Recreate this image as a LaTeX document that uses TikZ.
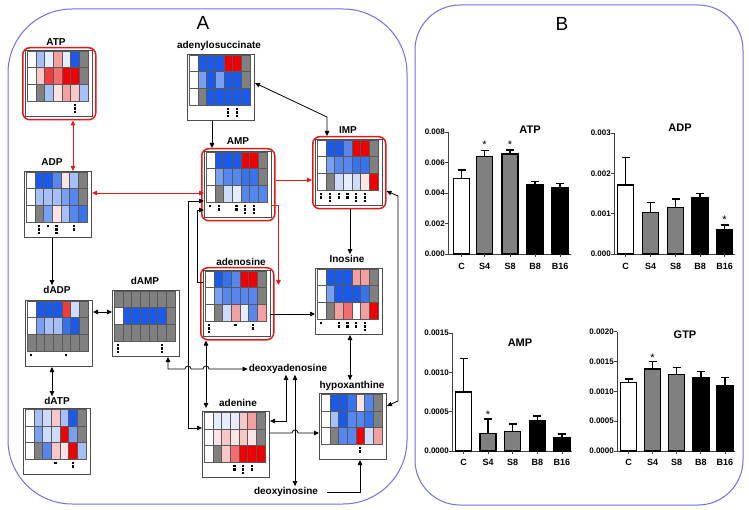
\documentclass[tikz,border=0pt]{standalone}
\usepackage{fontspec}
\setmainfont{Liberation Sans}
\usetikzlibrary{arrows.meta,calc}
\definecolor{cB}{RGB}{25,90,235}
\definecolor{cB1}{RGB}{55,115,236}
\definecolor{cB2}{RGB}{85,135,238}
\definecolor{cB3}{RGB}{120,160,242}
\definecolor{cB4}{RGB}{165,192,246}
\definecolor{cB5}{RGB}{205,220,250}
\definecolor{cB6}{RGB}{230,237,252}
\definecolor{cR}{RGB}{240,0,0}
\definecolor{cR1}{RGB}{240,60,60}
\definecolor{cR2}{RGB}{242,110,110}
\definecolor{cR3}{RGB}{244,160,160}
\definecolor{cR4}{RGB}{248,200,200}
\definecolor{cR5}{RGB}{252,228,228}
\definecolor{cG}{RGB}{128,128,128}
\definecolor{panelc}{RGB}{112,112,222}
\definecolor{redline}{RGB}{225,25,25}
\newcommand\hmap[6]{%
  \node[hbox] (#1) at ({#2-2},{#3-1}) {};
  \foreach \c [count=\i from 0] in {#4} {\filldraw[cellst, fill=\c] ({#2+\i*8.7},{#3}) rectangle ++(8.7,16.7);}
  \foreach \c [count=\i from 0] in {#5} {\filldraw[cellst, fill=\c] ({#2+\i*8.7},{#3+16.7}) rectangle ++(8.7,16.7);}
  \foreach \c [count=\i from 0] in {#6} {\filldraw[cellst, fill=\c] ({#2+\i*8.7},{#3+33.4}) rectangle ++(8.7,16.7);}
}
\newcommand\sigdots[3]{%
  \foreach \cc/\nn in {#3} {\foreach \kk in {1,...,\nn} {\fill ({#1+\cc*8.7+3.25},{#2+53+(\kk-1)*3.4}) rectangle ++(2.2,2.2);}}
}
\newcommand\cbar[5]{%
  \draw[line width=1.5pt] ({#1},{#4}) -- ({#1},{#3});
  \draw[line width=1.5pt] ({#1-4},{#4}) -- ({#1+4},{#4});
  \filldraw[line width=1.5pt, fill=#5] ({#1-8},{#2}) rectangle ({#1+8},{#3});
}
\begin{document}
\begin{tikzpicture}[x=1pt,y=-1pt,
  >={Triangle[length=5pt,width=4.5pt]},
  hbox/.style={draw=black!70, line width=1pt, fill=white, minimum width=67pt, minimum height=66pt, inner sep=0pt, anchor=north west},
  redbox/.style={draw=redline, line width=1.5pt, rounded corners=7pt, minimum width=73pt, minimum height=72pt, inner sep=0pt, anchor=north west},
  cellst/.style={draw=black!65, line width=0.4pt},
  lbl/.style={font=\fontsize{10}{12}\selectfont\bfseries, inner sep=1pt},
  conn/.style={draw=black, line width=0.8pt},
  rconn/.style={draw=redline, line width=0.8pt},
  panel/.style={draw=panelc, line width=1pt},
  ax/.style={draw=black!75, line width=0.7pt},
  tk/.style={font=\fontsize{8}{9}\selectfont\bfseries, anchor=east, inner sep=1pt},
  xl/.style={font=\fontsize{9}{10}\selectfont\bfseries, inner sep=1pt},
  ttl/.style={font=\fontsize{11}{12}\selectfont\bfseries, inner sep=1pt},
  sig/.style={font=\fontsize{11}{12}\selectfont, anchor=base, inner sep=0pt}]
\useasboundingbox (0,0) rectangle (749,510);
\fill[white] (0,0) rectangle (749,510);
% panels
\draw[panel, rounded corners=64pt] (8,9) rectangle (407,504);
\draw[panel, rounded corners=45pt] (415,5) rectangle (743,505);
\node[font=\fontsize{19}{22}\selectfont] (labA) at (203,23) {A};
\node[font=\fontsize{19}{22}\selectfont] (labB) at (562,24) {B};

% heat maps
\hmap{ATP}{27}{51}{white,cB4,cB6,cR3,cB6,cB,cG}{white,cR4,cR1,cR2,cR,cR,cG}{white,cG,cB4,cR5,cR3,cR4,cB4}
\sigdots{27}{51}{5/3}
\node[redbox] (ATPr) at (22,47) {};

\hmap{ADS}{189}{55}{white,cB,cB,cB,cR,cR,cG}{white,cB3,cB,cB3,cB,cB,cG}{white,cG,cB,cB,cB,cB,cB}
\sigdots{189}{55}{4/3,5/3}

\hmap{AMP}{206}{152}{white,cB,cB,cB,cR,cR,cG}{white,cB3,cB2,cB2,cB1,cB1,cG}{white,cG,cB5,cB6,cB2,cB2,cB2}
\sigdots{206}{152}{0/1,1/2,3/2,4/3,5/3}
\node[redbox] (AMPr) at (201,148) {};

\hmap{IMP}{317}{140}{white,cB,cB,cB2,cR,cR,cG}{white,cB3,cB2,cB2,cB1,cB1,cG}{white,cG,cB5,cB6,cB5,cR5,cR}
\sigdots{317}{140}{0/2,1/3,2/2,3/2,4/3,5/3}
\node[redbox] (IMPr) at (312,136) {};

\hmap{ADP}{26}{172}{white,cB,cB,cB2,cR5,cB4,cG}{white,cB4,cB4,cB4,cB3,cB2,cG}{white,cG,cB3,cR5,cB4,cB2,cB1}
\sigdots{26}{172}{1/3,2/1,3/3,5/2}

\hmap{dAMP}{114}{291}{cG,cG,cG,cG,cG,cG,cG}{white,cB,cB,cB,cB,cB,cG}{cG,cG,cG,cG,cG,cG,cG}
\sigdots{114}{291}{0/3,5/3}

\hmap{ADO}{205}{271}{white,cB,cB1,cB2,cR,cR,cG}{white,cB3,cB2,cB2,cB2,cB2,cG}{white,cG,cB5,cR3,cB6,cB2,cR3}
\sigdots{205}{271}{0/3,3/1,5/2}
\node[redbox] (ADOr) at (200,267) {};

\hmap{INO}{317}{269}{white,cB,cB,cB,cR3,cR3,cG}{white,cB3,cB,cB,cB,cB1,cG}{white,cG,cR3,cR2,white,cR3,cR}
\sigdots{317}{269}{0/1,2/2,3/2,4/2,5/3}

\hmap{dADP}{27}{301}{white,cB,cB,cB,cR1,cB5,cG}{white,cB3,cB4,cB4,cB1,cB,cG}{cG,cG,cG,cG,cG,cG,cG}
\sigdots{27}{301}{0/1,4/1}

\hmap{dATP}{25}{409}{white,cB4,cB5,cR4,cB4,cB,cG}{white,cB3,cB5,cB5,cR,cB3,cG}{white,cG,cB2,cR4,cR5,cR,cB4}
\sigdots{25}{409}{3/1,5/2}

\hmap{ADE}{204}{412}{white,cB6,cB6,cB6,cR4,cR3,cG}{white,cR5,cR4,cR5,cR4,cR5,cG}{white,cG,cR4,cR2,cR,cR,cR}
\sigdots{204}{412}{3/2,4/3,5/2}

\hmap{HYP}{321}{394}{white,cB,cB,cB1,cR5,cB2,cG}{white,cB4,cB,cB2,cB2,cB1,cG}{white,cG,cB2,cB2,cR,cB5,cR3}
\sigdots{321}{394}{4/2}

% labels
\node[lbl] (lATP) at (56,42) {ATP};
\node[lbl] (lADS) at (219,46) {adenylosuccinate};
\node[lbl] (lAMP) at (238,141) {AMP};
\node[lbl] (lIMP) at (348,130) {IMP};
\node[lbl] (lADP) at (52,162) {ADP};
\node[lbl] (ldAMP) at (145,281) {dAMP};
\node[lbl] (lADO) at (241,262) {adenosine};
\node[lbl] (lINO) at (347,259) {Inosine};
\node[lbl] (ldADP) at (57,290) {dADP};
\node[lbl] (ldATP) at (57,401) {dATP};
\node[lbl] (lADE) at (238,403) {adenine};
\node[lbl] (lHYP) at (352,386) {hypoxanthine};
\node[lbl] (ldA) at (288,369) {deoxyadenosine};
\node[lbl] (ldI) at (286,492) {deoxyinosine};

% red connectors
\draw[rconn,<->] (ATPr.south -| 73,0) -- (ADP.north -| 73,0);
\draw[rconn,<->] (ADP.east |- 0,193) -- (AMP.west |- 0,193);
\draw[rconn,->] (AMPr.east |- 0,180) -- (IMPr.west |- 0,180);
\coordinate (ADOin) at ($(ADOr.north east)+(4,18)$);
\draw[rconn,->] (AMP.east |- 0,205) -- (ADOin |- 0,205) -- (ADOin);

% black connectors
\draw[conn,->] (ADS.south -| 212,0) -- (AMPr.north -| 212,0);
\draw[conn,<->] (IMPr.north -| 327,0) -- (327,117) -- (ADS.east |- 0,83);
\draw[conn,->] (IMPr.south -| 350,0) -- (lINO.north -| 350,0);
\draw[conn,->] (ADO.west |- 0,282) -- (197,282) -- (197,210) -- (AMP.west |- 0,210);
\draw[conn,<->] (AMP.west |- 0,201) -- (188,201) -- (188,428) -- (ADE.west |- 0,428);
\draw[conn,<->] (ADOr.south -| 206,0) -- (206,408);
\draw[conn,->] (ADO.east |- 0,314) -- (INO.west |- 0,314);
\draw[conn,<->] (INO.south -| 350,0) -- (lHYP.north -| 350,0);
\draw[conn,<->] (IMPr.east |- 0,191) -- (398,196) -- (398,401) -- (HYP.east |- 0,406);
\draw[conn,->] (ADE.east |- 0,433) -- (292,433) arc[start angle=180,end angle=0,radius=3pt] -- (HYP.west |- 0,433);
\draw[conn,<->] (ldA.south -| 286,0) -- (286,421) -- (ADE.east |- 0,421);
\draw[conn,<->] (ldA.south -| 295,0) -- (ldI.north -| 295,0);
\draw[conn,->] ([xshift=8pt]ldI.east) -- (360,492) -- (HYP.south -| 360,0);
\draw[conn,<->] (dAMP.south -| 168,0) -- (168,369) -- (185,369) arc[start angle=180,end angle=0,radius=3pt] -- (203,369) arc[start angle=180,end angle=0,radius=3pt] -- (ldA.west);
\draw[conn,->] (ADP.south -| 52,0) -- (ldADP.north -| 52,0);
\draw[conn,<->] (dADP.east |- 0,312) -- (dAMP.west |- 0,312);
\draw[conn,<->] (dADP.south -| 52,0) -- (ldATP.north -| 52,0);

% ---------- panel B charts ----------
% ATP
\draw[ax] (448,132) -- (448,254) -- (571,254);
\foreach \y/\t [count=\k] in {132/0.008,162.5/0.006,193/0.004,223.5/0.002,254/0.000}{\draw[ax] (445,\y) -- (448,\y); \node[tk] (atpy\k) at (446,\y) {\t};}
\cbar{461.5}{254}{178.3}{170}{white}
\cbar{484.5}{254}{156.7}{150.7}{cG}
\cbar{510}{254}{154}{150}{cG}
\cbar{535}{254}{185}{181.7}{black}
\cbar{560}{254}{187.3}{183.3}{black}
\foreach \x/\t [count=\k] in {461.5/C,484.5/S4,510/S8,535/B8,560/B16}{\draw[ax] (\x,254) -- (\x,257); \node[xl] (atpx\k) at (\x,266) {\t};}
\node[sig] (atps1) at (484.5,149) {*};
\node[sig] (atps2) at (510,149) {*};
\node[ttl] (atpt) at (530,130) {ATP};
% ADP
\draw[ax] (614,133) -- (614,254) -- (735,254);
\foreach \y/\t [count=\k] in {133/0.003,173.3/0.002,213.7/0.001,254/0.000}{\draw[ax] (611,\y) -- (614,\y); \node[tk] (adpy\k) at (612,\y) {\t};}
\cbar{625.5}{254}{185}{157.3}{white}
\cbar{650.5}{254}{212.7}{202.7}{cG}
\cbar{675.5}{254}{207.3}{199}{cG}
\cbar{700}{254}{197.3}{193.3}{black}
\cbar{724.5}{254}{229.3}{225}{black}
\foreach \x/\t [count=\k] in {625.5/C,650.5/S4,675.5/S8,700/B8,724.5/B16}{\draw[ax] (\x,254) -- (\x,257); \node[xl] (adpx\k) at (\x,266) {\t};}
\node[sig] (adps1) at (724.5,224) {*};
\node[ttl] (adpt) at (680,128) {ADP};
% AMP
\draw[ax] (452,333) -- (452,451) -- (572,451);
\foreach \y/\t [count=\k] in {333/0.0015,372.3/0.0010,411.7/0.0005,451/0.0000}{\draw[ax] (449,\y) -- (452,\y); \node[tk] (ampy\k) at (450,\y) {\t};}
\cbar{463.5}{451}{392}{358.3}{white}
\cbar{488.1}{451}{433.3}{419}{cG}
\cbar{512.7}{451}{431.7}{424}{cG}
\cbar{537.3}{451}{420.7}{416}{black}
\cbar{561.9}{451}{437.3}{434}{black}
\foreach \x/\t [count=\k] in {463.5/C,488.1/S4,512.7/S8,537.3/B8,561.9/B16}{\draw[ax] (\x,451) -- (\x,454); \node[xl] (ampx\k) at (\x,462) {\t};}
\node[sig] (amps1) at (488.1,418.5) {*};
\node[ttl] (ampt) at (520,343) {AMP};
% GTP
\draw[ax] (617,331.7) -- (617,451) -- (735,451);
\foreach \y/\t [count=\k] in {331.7/0.0020,361.5/0.0015,391.3/0.0010,421.2/0.0005,451/0.0000}{\draw[ax] (614,\y) -- (617,\y); \node[tk] (gtpy\k) at (615,\y) {\t};}
\cbar{628.5}{451}{382.5}{379}{white}
\cbar{652.6}{451}{369}{361.7}{cG}
\cbar{676.7}{451}{374.3}{367.3}{cG}
\cbar{700.8}{451}{377.7}{371.7}{black}
\cbar{724.9}{451}{385.7}{377.7}{black}
\foreach \x/\t [count=\k] in {628.5/C,652.6/S4,676.7/S8,700.8/B8,724.9/B16}{\draw[ax] (\x,451) -- (\x,454); \node[xl] (gtpx\k) at (\x,462) {\t};}
\node[sig] (gtps1) at (652.6,361) {*};
\node[ttl] (gtpt) at (685,335) {GTP};
\end{tikzpicture}
\end{document}
